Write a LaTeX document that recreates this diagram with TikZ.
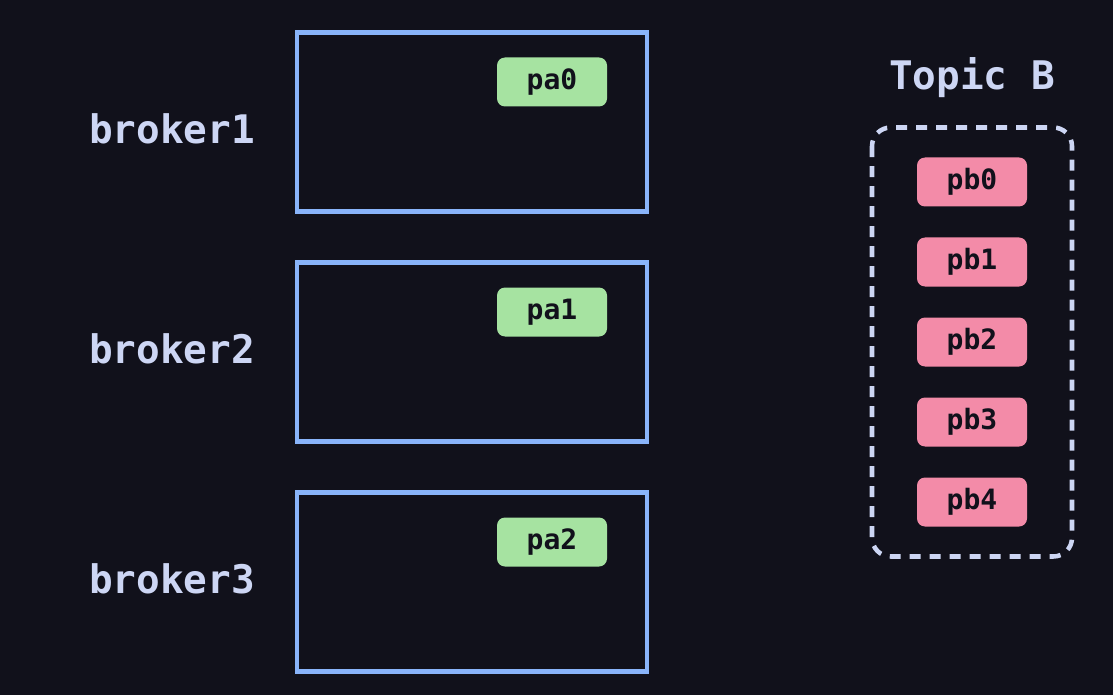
\documentclass[tikz,border=0pt]{standalone}
\usepackage{fontspec}
\setmonofont{DejaVu Sans Mono}
\definecolor{bgdark}{HTML}{11111B}
\definecolor{brokerblue}{HTML}{89B4FA}
\definecolor{partgreen}{HTML}{A6E3A1}
\definecolor{partpink}{HTML}{F38BA8}
\definecolor{labeltext}{HTML}{CDD6F4}
\tikzset{
  brokerbox/.style={draw=brokerblue, line width=3.4pt, minimum width=262.5pt, minimum height=134pt, inner sep=0pt},
  brokerlabel/.style={text=labeltext, font=\ttfamily\bfseries\fontsize{29.5}{31}\selectfont, anchor=west, inner sep=0pt},
  partbox/.style={rounded corners=6pt, minimum width=82.5pt, minimum height=36.75pt, inner sep=0pt, text=bgdark, font=\ttfamily\bfseries\fontsize{21}{22}\selectfont},
  pa/.style={partbox, fill=partgreen},
  pb/.style={partbox, fill=partpink}
}
\begin{document}
\begin{tikzpicture}[x=0.75pt,y=-0.75pt]
  % Background
  \fill[bgdark] (0,0) rectangle (1113,695);
  \useasboundingbox (0,0) rectangle (1113,695);

  % Brokers with their partition of topic A
  \foreach \i/\y/\ly in {1/122/129, 2/352/349, 3/582/579} {
    \node[brokerbox] (broker\i) at (472,\y) {};
    \node[brokerlabel] (label\i) at (89,\ly) {broker\i};
  }
  \node[pa] (pa0) at (552,82) {pa0};
  \node[pa] (pa1) at (552,312) {pa1};
  \node[pa] (pa2) at (552,542) {pa2};

  % Topic B and its partitions
  \node[text=labeltext, font=\ttfamily\bfseries\fontsize{29.5}{31}\selectfont] (topicB) at (972,78) {Topic B};
  \foreach \j in {0,...,4}
    \node[pb] (pb\j) at (972,182+80*\j) {pb\j};
  \draw[labeltext, line width=3.4pt, dash pattern=on 8.25pt off 6.75pt, rounded corners=14pt]
    (872,127.5) rectangle (1072,556.5);
\end{tikzpicture}
\end{document}
